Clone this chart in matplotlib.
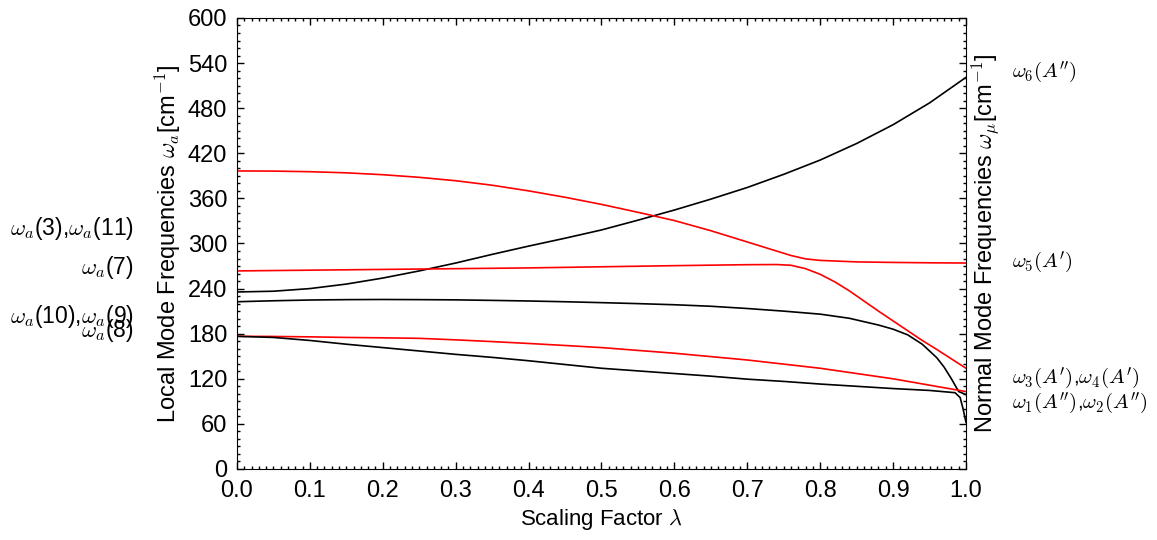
# Frecuencias locales y normales en funcion del factor de escala lambda
import matplotlib
matplotlib.use('Agg')
import matplotlib.pyplot as plt
from matplotlib.ticker import MultipleLocator

plt.rcParams['font.family'] = ['Liberation Sans', 'DejaVu Sans']
plt.rcParams['mathtext.fontset'] = 'cm'

# Modo que sube hasta omega_6 (negro)
lam_a = [0, 0.05, 0.1, 0.15, 0.2, 0.25, 0.3, 0.35, 0.4, 0.45, 0.5, 0.55,
         0.6, 0.65, 0.7, 0.75, 0.8, 0.85, 0.9, 0.95, 1.0]
w_a = [235.5, 236.5, 240, 246, 254, 263.5, 274, 285.5, 296.5, 307, 318, 331,
       344.5, 359, 374.5, 392, 411, 433, 458, 487, 521]

# Modo rojo superior que termina en omega_5
lam_b = [0, 0.05, 0.1, 0.15, 0.2, 0.25, 0.3, 0.35, 0.4, 0.45, 0.5, 0.55,
         0.6, 0.65, 0.7, 0.72, 0.74, 0.76, 0.78, 0.8, 0.85, 0.9, 0.95, 1.0]
w_b = [396.5, 396.3, 395.5, 394, 391.5, 388, 383.5, 377.5, 370, 361.5, 352, 341.5,
       330.5, 317, 302, 296, 290, 284, 279.5, 277.5, 275.5, 274.8, 274.3, 274]

# Modo rojo central
lam_c = [0, 0.1, 0.2, 0.3, 0.4, 0.5, 0.6, 0.7, 0.74, 0.76, 0.78, 0.8, 0.82,
         0.84, 0.86, 0.88, 0.9, 0.92, 0.94, 0.96, 0.98, 1.0]
w_c = [263.5, 264.5, 265.5, 266.5, 267.5, 269, 270.5, 271.8, 272, 271, 266.5,
       259, 249, 237, 223.5, 210, 197, 184, 171, 159, 146.5, 134]

# Modo negro central
lam_d = [0, 0.05, 0.1, 0.15, 0.2, 0.25, 0.3, 0.35, 0.4, 0.45, 0.5, 0.55, 0.6,
         0.65, 0.7, 0.75, 0.8, 0.84, 0.88, 0.9, 0.92, 0.94, 0.96, 0.97, 0.98,
         0.99, 1.0]
w_d = [222.5, 223.8, 224.8, 225.3, 225.5, 225.3, 225, 224.3, 223.5, 222.5,
       221.3, 220, 218.5, 216.5, 213.5, 210, 206, 200.5, 191.5, 186, 178.5,
       166, 148, 135.5, 120, 103, 99]

# Modo rojo inferior
lam_e = [0, 0.05, 0.1, 0.15, 0.2, 0.25, 0.3, 0.35, 0.4, 0.45, 0.5, 0.6, 0.7,
         0.8, 0.9, 0.95, 1.0]
w_e = [176.5, 176.3, 175.8, 175, 174.5, 173.8, 171.8, 169.5, 167, 164.3, 161.5,
       154, 145, 134, 120, 111.5, 103]

# Modo negro inferior
lam_f = [0, 0.05, 0.1, 0.15, 0.2, 0.25, 0.3, 0.35, 0.4, 0.45, 0.5, 0.55, 0.6,
         0.65, 0.7, 0.75, 0.8, 0.85, 0.9, 0.95, 0.985, 0.992, 0.996, 1.0]
w_f = [176.5, 175, 171, 166, 161.5, 157, 152.5, 148.5, 144, 139, 134, 130.5,
       127, 123.5, 119.5, 116.5, 113, 110, 107, 104.5, 101.5, 95, 80, 62]

# Etiquetas de los modos
izq_textos = [r'$\omega_a$(3),$\omega_a$(11)', r'$\omega_a$(7)',
              r'$\omega_a$(10),$\omega_a$(9)', r'$\omega_a$(8)']
izq_y = [320.6, 267.4, 203.5, 184.5]
der_textos = [r"$\omega_6(A'')$", r"$\omega_5(A')$",
              r"$\omega_3(A')$,$\omega_4(A')$", r"$\omega_1(A'')$,$\omega_2(A'')$"]
der_y = [528, 275.4, 121, 87.8]

fig = plt.figure(figsize=(11.57, 5.40), dpi=100)
ax = fig.add_axes([0.2048, 0.1315, 0.6301, 0.8352])

lw = 1.2
ax.plot(lam_a, w_a, color='black', lw=lw)
ax.plot(lam_b, w_b, color='red', lw=lw)
ax.plot(lam_c, w_c, color='red', lw=lw)
ax.plot(lam_d, w_d, color='black', lw=lw)
ax.plot(lam_e, w_e, color='red', lw=lw)
ax.plot(lam_f, w_f, color='black', lw=lw)

ax.set_xlim(0, 1)
ax.set_ylim(0, 600)
ax.xaxis.set_major_locator(MultipleLocator(0.1))
ax.xaxis.set_minor_locator(MultipleLocator(0.01))
ax.yaxis.set_major_locator(MultipleLocator(60))
ax.yaxis.set_minor_locator(MultipleLocator(10))
ax.tick_params(which='both', direction='in', top=True, right=True, width=1)
ax.tick_params(which='major', length=5, labelsize=17)
ax.tick_params(axis='x', which='major', pad=8)
ax.tick_params(axis='y', which='major', pad=7)
ax.tick_params(which='minor', length=2.5)

# Titulos de los ejes
ax.text(0.5, -0.113, r'Scaling Factor $\lambda$', transform=ax.transAxes,
        ha='center', va='center', fontsize=16)
ax.text(-0.0947, 0.5, r'Local Mode Frequencies $\omega_a$[cm$^{\mathsf{-1}}$]',
        transform=ax.transAxes, rotation=90, ha='center', va='center', fontsize=17)
ax.text(1.026, 0.5, r'Normal Mode Frequencies $\omega_\mu$[cm$^{\mathsf{-1}}$]',
        transform=ax.transAxes, rotation=90, ha='center', va='center', fontsize=17)

trans = ax.get_yaxis_transform()
for t, y in zip(izq_textos, izq_y):
    ax.text(-0.1413, y, t, transform=trans, ha='right', va='center', fontsize=16.5)
for t, y in zip(der_textos, der_y):
    ax.text(1.063, y, t, transform=trans, ha='left', va='center', fontsize=15)

plt.savefig('out.png', dpi=100)
